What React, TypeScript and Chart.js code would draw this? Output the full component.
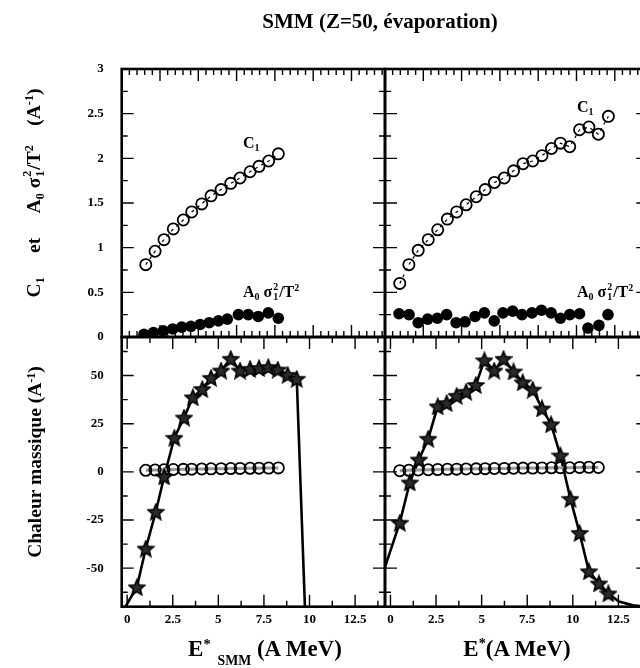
import React, { useEffect, useRef } from "react";
import { Chart, registerables } from "chart.js";
Chart.register(...registerables);

// ---------- data ----------
// Top-left: C1 (open circles) and A0 sigma1^2/T^2 (filled circles) vs E*_SMM
const E_C1_L = [1.02, 1.53, 2.02, 2.53, 3.08, 3.54, 4.09, 4.6, 5.15, 5.68, 6.19, 6.74, 7.23, 7.76, 8.29];
const C1_L = [0.81, 0.96, 1.09, 1.21, 1.31, 1.4, 1.49, 1.58, 1.65, 1.72, 1.78, 1.85, 1.91, 1.97, 2.05];
const E_A_L = [0.92, 1.44, 1.98, 2.5, 2.99, 3.5, 4.0, 4.5, 5.0, 5.49, 6.1, 6.64, 7.19, 7.74, 8.29];
const A_L = [0.03, 0.05, 0.07, 0.09, 0.11, 0.12, 0.14, 0.16, 0.18, 0.2, 0.25, 0.25, 0.23, 0.27, 0.21];

// Top-right: C1 and A0 sigma1^2/T^2 vs E*
const E_C1_R = [0.51, 1.01, 1.52, 2.07, 2.59, 3.12, 3.63, 4.15, 4.7, 5.19, 5.7, 6.24, 6.75, 7.27, 7.8, 8.31, 8.83, 9.32, 9.83, 10.37, 10.88, 11.4, 11.95];
const C1_R = [0.6, 0.81, 0.97, 1.09, 1.2, 1.32, 1.4, 1.48, 1.57, 1.65, 1.73, 1.78, 1.86, 1.94, 1.97, 2.03, 2.11, 2.17, 2.13, 2.32, 2.35, 2.27, 2.47];
const E_A_R = [0.47, 1.02, 1.52, 2.04, 2.57, 3.08, 3.6, 4.09, 4.64, 5.15, 5.69, 6.17, 6.7, 7.21, 7.76, 8.28, 8.81, 9.32, 9.83, 10.37, 10.83, 11.43, 11.93];
const A_R = [0.26, 0.25, 0.16, 0.2, 0.21, 0.25, 0.16, 0.17, 0.23, 0.27, 0.18, 0.27, 0.29, 0.25, 0.27, 0.3, 0.27, 0.21, 0.25, 0.26, 0.1, 0.13, 0.25];

// Bottom-left: heat capacity (stars + line); first/last entries are line-only
const E_CV_L = [-0.3, 0.53, 1.02, 1.57, 2.03, 2.59, 3.12, 3.6, 4.12, 4.6, 5.15, 5.68, 6.19, 6.74, 7.23, 7.74, 8.26, 8.8, 9.3, 9.79];
const CV_L = [-73.3, -59.9, -39.8, -20.7, -2.4, 17.7, 28.2, 38.7, 43, 48.8, 52.6, 58.7, 52.6, 53.5, 53.9, 54.4, 53.1, 50.4, 48.3, -81];

// Bottom-right: heat capacity; first and last three entries are line-only
const E_CV_R = [-0.3, 0.51, 1.06, 1.56, 2.07, 2.59, 3.08, 3.63, 4.15, 4.68, 5.15, 5.69, 6.2, 6.75, 7.25, 7.8, 8.31, 8.81, 9.32, 9.87, 10.37, 10.88, 11.43, 11.95, 12.53, 13.3, 14.2];
const CV_R = [-49.5, -26.4, -5.5, 6.4, 17.2, 34, 35.7, 39.5, 41.6, 45.1, 57.9, 52.6, 58.7, 52.1, 46.5, 42.7, 32.9, 24.7, 8.5, -14, -31.7, -51.6, -57.9, -63.1, -67.3, -69.3, -70.2];
const CV_R_MARK_FROM = 1;
const CV_R_MARK_TO = 24;
const N_CIRC_R = 22;

// axes
const X_MIN = -0.3;
const X_MAX = 14.14;
const X_STEP = 2.5;
const Y_TOP_MIN = 0;
const Y_TOP_MAX = 3;
const Y_TOP_STEP = 0.5;
const Y_BOT_MIN = -70;
const Y_BOT_MAX = 70;
const Y_BOT_STEP = 25;
const XT_MAX = 6.875;

// ---------- geometry / style ----------
const CW = 660;
const CH = 668;
const X_L0 = 121.7;
const X_DIV = 385;
const X_R1 = 648.3;
const Y_T0 = 69;
const Y_MID = 337;
const Y_B1 = 606.7;
const X_AXIS_H = 40;
const FONT = "'Liberation Serif', 'Times New Roman', serif";
const TICK_FONT = { family: FONT, weight: "bold" as const, size: 13 };

const pts = (xs: number[], ys: number[]) => xs.map((x, i) => ({ x, y: ys[i] }));

function makeStar(size: number) {
  const c = document.createElement("canvas");
  c.width = size;
  c.height = size;
  const g = c.getContext("2d")!;
  const cx = size / 2;
  const cy = size / 2 + 0.8;
  const R = size / 2 - 0.8;
  const r = R * 0.45;
  g.beginPath();
  for (let i = 0; i < 10; i++) {
    const ang = -Math.PI / 2 + (i * Math.PI) / 5;
    const rad = i % 2 === 0 ? R : r;
    const x = cx + rad * Math.cos(ang);
    const y = cy + rad * Math.sin(ang);
    if (i === 0) g.moveTo(x, y);
    else g.lineTo(x, y);
  }
  g.closePath();
  g.fillStyle = "#2a2a2a";
  g.fill();
  g.lineWidth = 1.6;
  g.strokeStyle = "#000";
  g.stroke();
  return c;
}

const frameTicks = {
  id: "frameTicks",
  afterDatasetsDraw(chart: any, _args: any, o: any) {
    const { ctx, chartArea: a, scales } = chart;
    ctx.save();
    ctx.strokeStyle = "#000";
    ctx.lineWidth = 1.4;
    ctx.beginPath();
    const xs = scales[o.xScale];
    const nx0 = Math.ceil(xs.min / o.xStep - 1e-6);
    const nx1 = Math.floor(xs.max / o.xStep + 1e-6);
    for (let i = nx0; i <= nx1; i++) {
      const px = xs.getPixelForValue(i * o.xStep);
      if (px <= a.left + 1 || px >= a.right - 1) continue;
      const len = i % o.xMajor === 0 ? 12 : 6;
      ctx.moveTo(px, a.top);
      ctx.lineTo(px, a.top + len);
      ctx.moveTo(px, a.bottom);
      ctx.lineTo(px, a.bottom - len);
    }
    const ys = scales.y;
    const ny0 = Math.ceil(ys.min / o.yStep - 1e-6);
    const ny1 = Math.floor(ys.max / o.yStep + 1e-6);
    for (let i = ny0; i <= ny1; i++) {
      const py = ys.getPixelForValue(i * o.yStep);
      if (py <= a.top + 1 || py >= a.bottom - 1) continue;
      const len = i % o.yMajor === 0 ? 12 : 6;
      ctx.moveTo(a.left, py);
      ctx.lineTo(a.left + len, py);
      ctx.moveTo(a.right, py);
      ctx.lineTo(a.right - len, py);
    }
    ctx.stroke();
    ctx.lineWidth = 2.6;
    ctx.strokeRect(a.left, a.top, a.right - a.left, a.bottom - a.top);
    ctx.restore();
  },
};

function panelConfig(side: "L" | "R", row: "T" | "B", datasets: any[]) {
  const left = side === "L" ? X_L0 : X_DIV;
  const right = side === "L" ? X_DIV : X_R1;
  const top = row === "T" ? Y_T0 : Y_MID;
  const bottom = row === "T" ? Y_MID : Y_B1;
  const showY = side === "L";
  const showX = row === "B";
  return {
    type: "line",
    data: { datasets },
    plugins: [frameTicks],
    options: {
      responsive: false,
      animation: false,
      events: [],
      layout: {
        padding: {
          left: showY ? 0 : left,
          right: CW - right,
          top,
          bottom: CH - bottom - (showX ? X_AXIS_H : 0),
        },
      },
      plugins: {
        legend: { display: false },
        tooltip: { enabled: false },
        frameTicks:
          row === "T"
            ? { xScale: "xt", xStep: 0.2, xMajor: 5, yStep: 0.25, yMajor: 2 }
            : { xScale: "x", xStep: 1.25, xMajor: 2, yStep: 12.5, yMajor: 2 },
      },
      scales: {
        x: {
          type: "linear",
          position: "bottom",
          min: X_MIN,
          max: X_MAX,
          display: showX,
          grid: { display: false, drawTicks: false },
          border: { display: false },
          ticks: {
            stepSize: X_STEP,
            includeBounds: false,
            padding: 5,
            color: "#000",
            font: TICK_FONT,
            maxRotation: 0,
            autoSkip: false,
            callback: (v: any) => String(v),
          },
          afterFit: showX
            ? (s: any) => {
                s.height = X_AXIS_H;
              }
            : undefined,
        },
        xt: { type: "linear", min: 0, max: XT_MAX, display: false },
        y: {
          type: "linear",
          position: "left",
          min: row === "T" ? Y_TOP_MIN : Y_BOT_MIN,
          max: row === "T" ? Y_TOP_MAX : Y_BOT_MAX,
          display: showY,
          grid: { display: false, drawTicks: false },
          border: { display: false },
          ticks: {
            stepSize: row === "T" ? Y_TOP_STEP : Y_BOT_STEP,
            includeBounds: false,
            padding: 18,
            color: "#000",
            font: TICK_FONT,
            autoSkip: false,
            callback: (v: any) => String(v),
          },
          afterFit: showY
            ? (s: any) => {
                s.width = X_L0;
              }
            : undefined,
        },
      },
    },
  } as any;
}

const openCircle = (data: any[], lineColor: string, lineWidth: number, dash: number[]) => ({
  data,
  borderColor: lineColor,
  borderWidth: lineWidth,
  borderDash: dash,
  pointRadius: 5.6,
  pointBorderWidth: 1.8,
  pointBackgroundColor: "rgba(0,0,0,0)",
  pointBorderColor: "#000",
  order: 1,
});

const filledCircle = (data: any[]) => ({
  data,
  showLine: false,
  pointRadius: 5.8,
  pointBorderWidth: 0,
  pointBackgroundColor: "#000",
  pointBorderColor: "#000",
  order: 0,
});

const starLine = (data: any[]) => ({
  data,
  borderColor: "#000",
  borderWidth: 2.6,
  pointRadius: 0,
  order: 2,
});

const starMarks = (data: any[], star: any) => ({
  data,
  showLine: false,
  pointStyle: star,
  pointRadius: 8,
  order: 0,
});

function SS({ sup, sub }: { sup: string; sub: string }) {
  return (
    <span
      style={{
        display: "inline-flex",
        flexDirection: "column",
        fontSize: "0.62em",
        lineHeight: 1.05,
        verticalAlign: "0.72em",
        margin: "0 1px",
      }}
    >
      <span>{sup}</span>
      <span>{sub}</span>
    </span>
  );
}

const supS = { fontSize: "0.62em", verticalAlign: "0.55em", lineHeight: 0 } as const;
const subS = { fontSize: "0.62em", verticalAlign: "-0.3em", lineHeight: 0 } as const;

export default function App() {
  const rTL = useRef<HTMLCanvasElement>(null);
  const rTR = useRef<HTMLCanvasElement>(null);
  const rBL = useRef<HTMLCanvasElement>(null);
  const rBR = useRef<HTMLCanvasElement>(null);

  useEffect(() => {
    const star = makeStar(18);
    const charts = [
      new Chart(
        rTL.current!,
        panelConfig("L", "T", [
          openCircle(pts(E_C1_L, C1_L), "#000", 1.2, [3, 4]),
          filledCircle(pts(E_A_L, A_L)),
        ])
      ),
      new Chart(
        rTR.current!,
        panelConfig("R", "T", [
          openCircle(pts(E_C1_R, C1_R), "#000", 1.2, [3, 4]),
          filledCircle(pts(E_A_R, A_R)),
        ])
      ),
      new Chart(
        rBL.current!,
        panelConfig("L", "B", [
          starLine(pts(E_CV_L, CV_L)),
          starMarks(pts(E_CV_L.slice(1, -1), CV_L.slice(1, -1)), star),
          openCircle(pts(E_C1_L, C1_L), "#9a9a9a", 3, []),
        ])
      ),
      new Chart(
        rBR.current!,
        panelConfig("R", "B", [
          starLine(pts(E_CV_R, CV_R)),
          starMarks(
            pts(E_CV_R.slice(CV_R_MARK_FROM, CV_R_MARK_TO), CV_R.slice(CV_R_MARK_FROM, CV_R_MARK_TO)),
            star
          ),
          openCircle(pts(E_C1_R.slice(0, N_CIRC_R), C1_R.slice(0, N_CIRC_R)), "#9a9a9a", 3, []),
        ])
      ),
    ];
    return () => charts.forEach((c) => c.destroy());
  }, []);

  const cv = { position: "absolute" as const, left: 0, top: 0, width: CW, height: CH };
  const abs = (x: number, y: number, size: number, extra: any = {}) => ({
    position: "absolute" as const,
    left: x,
    top: y,
    fontSize: size,
    whiteSpace: "nowrap" as const,
    lineHeight: 1,
    transform: "translate(-50%,-50%)",
    ...extra,
  });
  const sp = (n: number) => "\u00a0".repeat(n);

  return (
    <div
      style={{
        position: "absolute",
        left: 0,
        top: 0,
        width: 640,
        height: 668,
        overflow: "hidden",
        background: "#fff",
        fontFamily: FONT,
        fontWeight: "bold",
        color: "#000",
      }}
    >
      <canvas ref={rTL} width={CW} height={CH} style={cv} />
      <canvas ref={rTR} width={CW} height={CH} style={cv} />
      <canvas ref={rBL} width={CW} height={CH} style={cv} />
      <canvas ref={rBR} width={CW} height={CH} style={cv} />

      <div style={abs(380, 21, 21)}>SMM (Z=50, évaporation)</div>

      <div style={abs(34, 193, 19.5, { transform: "translate(-50%,-50%) rotate(-90deg)" })}>
        C<span style={subS}>1</span>
        {sp(5)}et{sp(5)}A<span style={subS}>0</span>
        {sp(1)}σ<SS sup="2" sub="1" />/T<span style={supS}>2</span>
        {sp(4)}(A<span style={supS}>-1</span>)
      </div>
      <div style={abs(35, 462, 19.5, { transform: "translate(-50%,-50%) rotate(-90deg)" })}>
        Chaleur massique (A<span style={supS}>-1</span>)
      </div>

      <div style={abs(265, 649, 23)}>
        E<span style={supS}>*</span>
        <span style={{ fontSize: "0.6em", verticalAlign: "-0.6em", lineHeight: 0 }}>{sp(2)}SMM</span> (A MeV)
      </div>
      <div style={abs(517, 648, 23)}>
        E<span style={supS}>*</span>(A MeV)
      </div>

      <div style={abs(243, 143, 16, { transform: "translate(0,-50%)" })}>
        C<span style={subS}>1</span>
      </div>
      <div style={abs(243, 292, 16, { transform: "translate(0,-50%)" })}>
        A<span style={subS}>0</span>
        {sp(1)}σ<SS sup="2" sub="1" />/T<span style={supS}>2</span>
      </div>
      <div style={abs(577, 107, 16, { transform: "translate(0,-50%)" })}>
        C<span style={subS}>1</span>
      </div>
      <div style={abs(577, 292, 16, { transform: "translate(0,-50%)" })}>
        A<span style={subS}>0</span>
        {sp(1)}σ<SS sup="2" sub="1" />/T<span style={supS}>2</span>
      </div>
    </div>
  );
}
